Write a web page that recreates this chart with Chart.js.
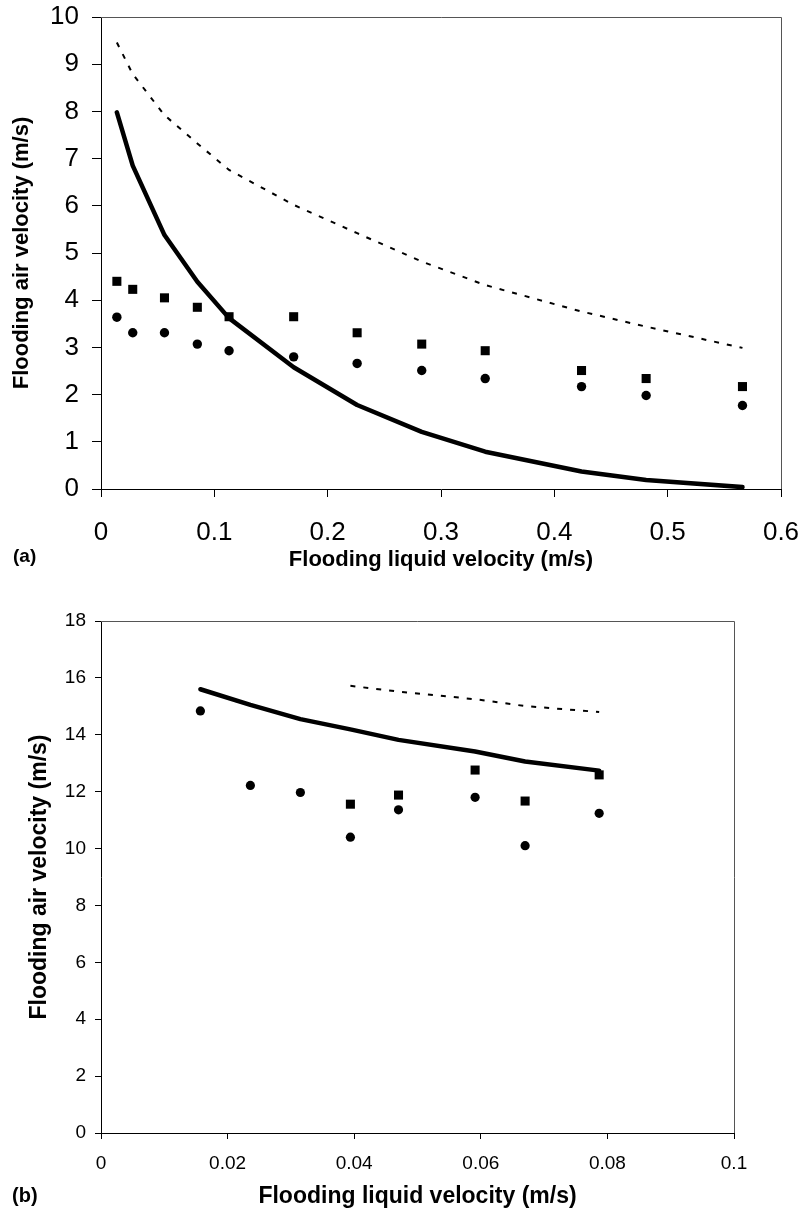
<!DOCTYPE html>
<html>
<head>
<meta charset="utf-8">
<script src="https://cdn.jsdelivr.net/npm/chart.js@4.4.1/dist/chart.umd.min.js"></script>
<style>
  body { margin: 0; background: #fff; width: 806px; height: 1212px; position: relative; overflow: hidden; }
  .box { position: absolute; left: 0; }
  .tag { position: absolute; font-family: "Liberation Sans", Arial, sans-serif; font-weight: bold; color: #000; line-height: 1; }
</style>
</head>
<body>
<div class="box" style="top:0"><canvas id="chartA" width="806" height="590"></canvas></div>
<div class="box" style="top:590px"><canvas id="chartB" width="806" height="622"></canvas></div>
<div class="tag" style="left:13px; top:546px; font-size:19px;">(a)</div>
<div class="tag" style="left:12px; top:1185px; font-size:20px;">(b)</div>
<script>
// panel (a)
const xA = [0.014, 0.028, 0.056, 0.085, 0.113, 0.170, 0.226, 0.283, 0.339, 0.424, 0.481, 0.566];
const squaresA = [4.40, 4.23, 4.05, 3.85, 3.65, 3.65, 3.31, 3.07, 2.93, 2.51, 2.34, 2.17];
const circlesA = [3.64, 3.31, 3.31, 3.07, 2.93, 2.80, 2.66, 2.51, 2.34, 2.17, 1.98, 1.77];
const solidA = [7.98, 6.85, 5.38, 4.39, 3.62, 2.58, 1.78, 1.21, 0.79, 0.37, 0.19, 0.04];
const dashedA = [9.46, 8.79, 7.92, 7.32, 6.76, 6.02, 5.42, 4.82, 4.32, 3.76, 3.44, 2.99];
const xTicksA = [0, 0.1, 0.2, 0.3, 0.4, 0.5, 0.6];
const yTicksA = [0, 1, 2, 3, 4, 5, 6, 7, 8, 9, 10];

// panel (b)
const xB = [0.0157, 0.0236, 0.0315, 0.0394, 0.0470, 0.0591, 0.0670, 0.0787];
const squaresB = [null, null, null, 11.56, 11.88, 12.76, 11.67, 12.59];
const circlesB = [14.84, 12.22, 11.97, 10.40, 11.36, 11.80, 10.10, 11.24];
const solidB = [15.60, 15.05, 14.55, 14.19, 13.82, 13.41, 13.06, 12.74];
const dashedB = [null, null, null, 15.72, 15.52, 15.25, 15.01, 14.80];
const xTicksB = [0, 0.02, 0.04, 0.06, 0.08, 0.1];
const yTicksB = [0, 2, 4, 6, 8, 10, 12, 14, 16, 18];

const xTitle = 'Flooding liquid velocity (m/s)';
const yTitle = 'Flooding air velocity (m/s)';

Chart.defaults.font.family = '"Liberation Sans", Arial, Helvetica, sans-serif';
Chart.defaults.color = '#000';

function pts(xs, ys) {
  return xs.map((x, i) => ({x: x, y: ys[i]})).filter(p => p.y !== null);
}

// grey top and right edges of the plot box
const frame = {
  id: 'frame',
  afterDraw(chart) {
    const ctx = chart.ctx, a = chart.chartArea;
    ctx.save();
    ctx.strokeStyle = '#555';
    ctx.lineWidth = 1;
    ctx.beginPath();
    ctx.moveTo(a.left, a.top + 0.5);
    ctx.lineTo(Math.round(a.right) + 0.5, a.top + 0.5);
    ctx.lineTo(Math.round(a.right) + 0.5, a.bottom);
    ctx.stroke();
    ctx.restore();
  }
};

function makeSets(xs, dashed, solid, squares, circles, sq, ci) {
  return [
    {data: pts(xs, dashed), showLine: true, borderColor: '#000', borderWidth: 2, borderDash: [5, 8], pointRadius: 0, tension: 0},
    {data: pts(xs, solid), showLine: true, borderColor: '#000', borderWidth: 4.5, borderCapStyle: 'round', borderJoinStyle: 'round', pointRadius: 0, tension: 0},
    {data: pts(xs, squares), pointStyle: 'rect', pointRadius: sq, backgroundColor: '#000', borderWidth: 0},
    {data: pts(xs, circles), pointStyle: 'circle', pointRadius: ci, backgroundColor: '#000', borderWidth: 0}
  ];
}

function fmt(v) { return String(Math.round(v * 1000) / 1000); }

// fixed box size, no extra room for label overhang
function fixSize(prop, px) {
  return s => {
    s[prop] = px;
    s.paddingTop = 0; s.paddingBottom = 0; s.paddingLeft = 0; s.paddingRight = 0;
  };
}

function axis(min, max, ticks, size, tl, pad, titleText, titleSize, titlePad, fit) {
  return {
    type: 'linear', min: min, max: max,
    afterBuildTicks: s => { s.ticks = ticks.map(v => ({value: v})); },
    afterFit: fit,
    ticks: {font: {size: size}, padding: pad, color: '#000', callback: fmt, maxRotation: 0, autoSkip: false},
    grid: {display: true, drawOnChartArea: false, drawTicks: true, tickLength: tl, color: '#000'},
    border: {display: true, color: '#000', width: 1},
    title: {display: true, text: titleText, font: {size: titleSize, weight: 'bold'}, padding: titlePad, color: '#000'}
  };
}

const common = {
  responsive: false,
  animation: false,
  events: [],
  plugins: {legend: {display: false}, tooltip: {enabled: false}}
};

new Chart(document.getElementById('chartA'), {
  type: 'scatter',
  data: {datasets: makeSets(xA, dashedA, solidA, squaresA, circlesA, 6.4, 4.7)},
  options: Object.assign({}, common, {
    layout: {padding: {left: 0, top: 17, right: 25, bottom: 0}},
    scales: {
      x: axis(0, 0.6, xTicksA, 26, 8, 20, xTitle, 22, {top: 0, bottom: 17}, fixSize('height', 101)),
      y: axis(0, 10, yTicksA, 26, 9, 13, yTitle, 22, {top: 9, bottom: 0}, fixSize('width', 101))
    }
  }),
  plugins: [frame]
});

new Chart(document.getElementById('chartB'), {
  type: 'scatter',
  data: {datasets: makeSets(xB, dashedB, solidB, squaresB, circlesB, 6.4, 4.6)},
  options: Object.assign({}, common, {
    layout: {padding: {left: 0, top: 31, right: 72, bottom: 0}},
    scales: {
      x: axis(0, 0.1, xTicksB, 19, 6, 13, xTitle, 23, {top: 0, bottom: 2}, fixSize('height', 79)),
      y: axis(0, 18, yTicksB, 19, 6, 9, yTitle, 23, {top: 26, bottom: 0}, fixSize('width', 101))
    }
  }),
  plugins: [frame]
});
</script>
</body>
</html>
